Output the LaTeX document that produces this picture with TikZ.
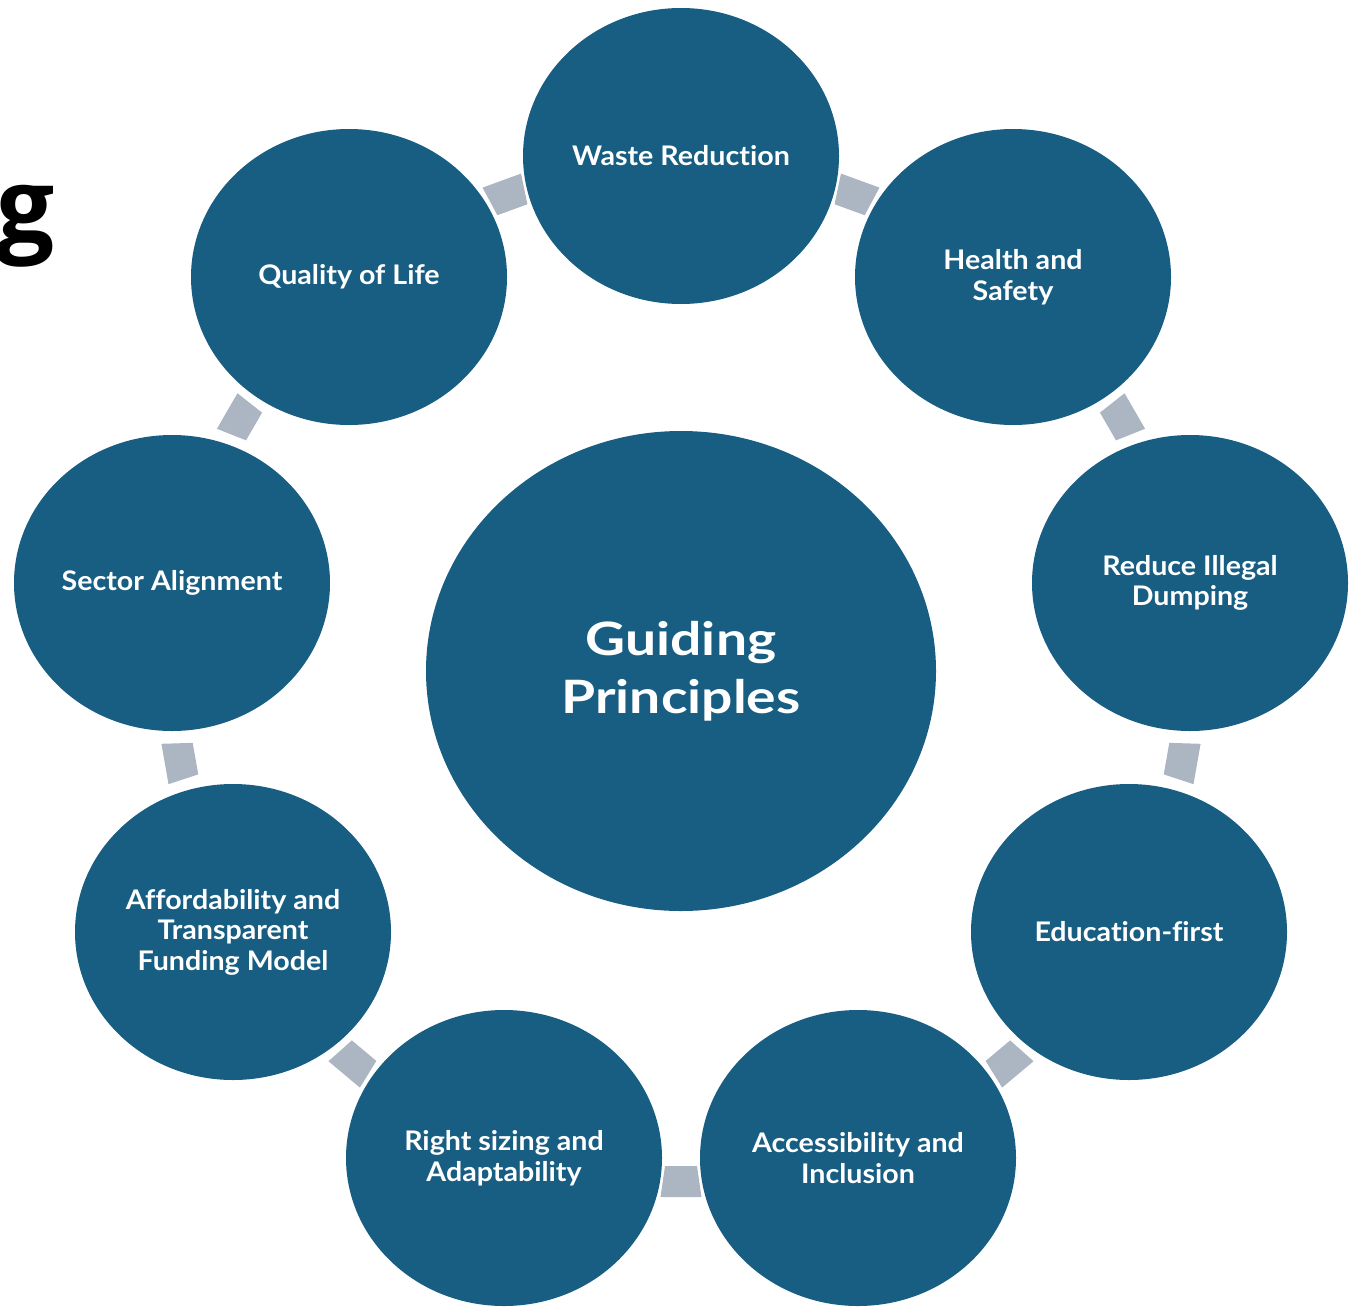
\documentclass[tikz,border=0pt]{standalone}
\usepackage{fontspec}
\setmainfont{Lato}[Ligatures=NoCommon]
\newfontfamily\outerfont{Lato}[Ligatures=NoCommon, FakeStretch=1.06]
\newfontfamily\hubfont{Lato}[Ligatures=NoCommon, FakeStretch=1.2]
\newfontfamily\gfont{Open Sans}
\usetikzlibrary{shapes.geometric}
\definecolor{nodeblue}{RGB}{24,94,130}
\definecolor{bargrey}{RGB}{172,182,194}
\tikzset{
  outer/.style={ellipse, fill=nodeblue, minimum width=316pt, minimum height=296pt,
    inner sep=0pt, text=white, font=\outerfont\bfseries\fontsize{27}{30.5}\selectfont, align=center},
  hub/.style={ellipse, fill=nodeblue, minimum width=510pt, minimum height=480pt,
    inner sep=0pt, text=white, font=\hubfont\bfseries\fontsize{46}{58}\selectfont, align=center},
  linkbar/.style={fill=bargrey}
}
\begin{document}
\begin{tikzpicture}[x=1pt,y=1pt]
\useasboundingbox (0,0) rectangle (1356,-1306);
\coordinate (c) at (681,-673);
% connectors (ring segments between neighbouring circles)
\foreach \a in {70,30,-10,-50,-90,-130,-170,150,110}{
  \begin{scope}[shift={(c)}, rotate=\a-90]
    \fill[linkbar] (-16,493) -- (16,493) -- (20.5,524) -- (-20.5,524) -- cycle;
  \end{scope}
}
\node[hub] (hub) at (681,-671) {Guiding\\Principles};
\node[outer] (n0) at (681,-156) {Waste Reduction};
\node[outer] (n1) at (1013,-277) {Health and\\Safety};
\node[outer] (n2) at (1190,-583) {Reduce Illegal\\Dumping};
\node[outer] (n3) at (1129,-932) {Education-first};
\node[outer] (n4) at (858,-1158) {Accessibility and\\Inclusion};
\node[outer] (n5) at (504,-1158) {Right sizing and\\Adaptability};
\node[outer] (n6) at (233,-932) {Affordability and\\Transparent\\Funding Model};
\node[outer] (n7) at (172,-583) {Sector Alignment};
\node[outer] (n8) at (349,-277) {Quality of Life};
\node[anchor=base east, inner sep=0pt, font=\gfont\bfseries\fontsize{103}{103}\selectfont] (g) at (55,-242) {g};
\end{tikzpicture}
\end{document}
